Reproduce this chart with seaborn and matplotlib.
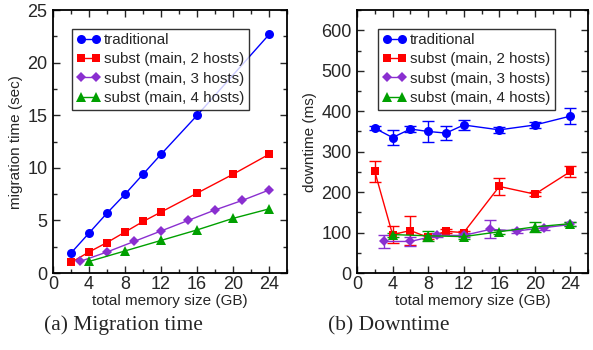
import numpy as np
import pandas as pd
import matplotlib
matplotlib.use("Agg")
import matplotlib.pyplot as plt
from matplotlib.ticker import MultipleLocator
import seaborn as sns

# x positions (GB) per series
x_trad = [2, 4, 6, 8, 10, 12, 16, 24]
x_trad_dt = [2, 4, 6, 8, 10, 12, 16, 20, 24]
x_h2 = [2, 4, 6, 8, 10, 12, 16, 20, 24]
x_h3 = [3, 6, 9, 12, 15, 18, 21, 24]
x_h4 = [4, 8, 12, 16, 20, 24]

# (a) migration time, sec
mig_trad = [1.9, 3.8, 5.7, 7.5, 9.4, 11.3, 15.0, 22.7]
mig_h2 = [1.0, 2.0, 2.9, 3.9, 4.9, 5.8, 7.6, 9.4, 11.3]
mig_h3 = [1.1, 2.0, 3.0, 4.0, 5.0, 6.0, 6.9, 7.9]
mig_h4 = [1.1, 2.1, 3.1, 4.1, 5.2, 6.1]

# (b) downtime, ms (mean and error)
dt_trad = [358, 335, 356, 350, 346, 366, 354, 366, 388]
dt_trad_err = [5, 18, 8, 25, 17, 12, 8, 8, 20]
dt_h2 = [251, 95, 105, 88, 103, 100, 214, 195, 251]
dt_h2_err = [25, 20, 35, 5, 5, 5, 20, 5, 13]
dt_h3 = [78, 78, 93, 93, 108, 104, 112, 120]
dt_h3_err = [15, 10, 5, 5, 22, 5, 5, 5]
dt_h4 = [95, 92, 90, 102, 114, 122]
dt_h4_err = [5, 12, 5, 5, 12, 5]

labels = ["traditional", "subst (main, 2 hosts)", "subst (main, 3 hosts)", "subst (main, 4 hosts)"]
colors = ["#0000ff", "#ff0000", "#8a2fd0", "#00a000"]
markers = ["o", "s", "D", "^"]
msizes = [6.5, 5.8, 5.0, 6.5]

sns.set_theme(style="ticks")
plt.rcParams["font.family"] = ["Liberation Sans", "DejaVu Sans"]

fig = plt.figure(figsize=(5.93, 3.5), dpi=100)
ax1 = fig.add_axes([0.0894, 0.22, 0.395, 0.751])
ax2 = fig.add_axes([0.602, 0.22, 0.390, 0.751])


def draw(ax, xs, ys, errs=None):
    for i, (x, y) in enumerate(zip(xs, ys)):
        df = pd.DataFrame({"x": x, "y": y})
        sns.lineplot(data=df, x="x", y="y", ax=ax, color=colors[i], marker=markers[i],
                     markersize=msizes[i], markeredgewidth=0, linewidth=1.0,
                     label=labels[i], zorder=3)
        if errs is not None:
            ax.errorbar(x, y, yerr=errs[i], fmt="none", ecolor=colors[i],
                        elinewidth=1.0, capsize=4, capthick=1.0, zorder=2)


draw(ax1, [x_trad, x_h2, x_h3, x_h4], [mig_trad, mig_h2, mig_h3, mig_h4])
draw(ax2, [x_trad_dt, x_h2, x_h3, x_h4], [dt_trad, dt_h2, dt_h3, dt_h4],
     [dt_trad_err, dt_h2_err, dt_h3_err, dt_h4_err])

ax1.set_ylim(0, 25)
ax1.yaxis.set_major_locator(MultipleLocator(5))
ax1.yaxis.set_minor_locator(MultipleLocator(2.5))
ax1.set_ylabel("migration time (sec)", fontsize=11, labelpad=3)

ax2.set_ylim(0, 650)
ax2.yaxis.set_major_locator(MultipleLocator(100))
ax2.yaxis.set_minor_locator(MultipleLocator(50))
ax2.set_ylabel("downtime (ms)", fontsize=11, labelpad=3)

for ax, lx in [(ax1, 0.081), (ax2, 0.09)]:
    ax.set_xlim(0, 26)
    ax.xaxis.set_major_locator(MultipleLocator(4))
    ax.xaxis.set_minor_locator(MultipleLocator(2))
    ax.set_xlabel("total memory size (GB)", fontsize=11, labelpad=1)
    ax.tick_params(which="both", direction="in", top=True, right=True, labelsize=13,
                   width=1.0)
    ax.tick_params(axis="x", pad=2)
    ax.tick_params(axis="y", pad=4)
    ax.tick_params(which="major", length=5)
    ax.tick_params(which="minor", length=3)
    for s in ax.spines.values():
        s.set_linewidth(1.3)
        s.set_color("black")
    leg = ax.legend(loc="upper left", bbox_to_anchor=(lx, 0.93), numpoints=2,
                    fontsize=10.9, frameon=True, fancybox=False, borderpad=0.3,
                    handlelength=1.6, handletextpad=0.2, labelspacing=0.35,
                    borderaxespad=0)
    leg.get_frame().set_edgecolor("black")
    leg.get_frame().set_linewidth(1.0)

fig.text(0.209, 0.07, "(a) Migration time", ha="center", va="center",
         fontsize=15.5, family=["Liberation Serif", "DejaVu Serif"])
fig.text(0.655, 0.07, "(b) Downtime", ha="center", va="center",
         fontsize=15.5, family=["Liberation Serif", "DejaVu Serif"])

fig.savefig("out.png", dpi=100)
